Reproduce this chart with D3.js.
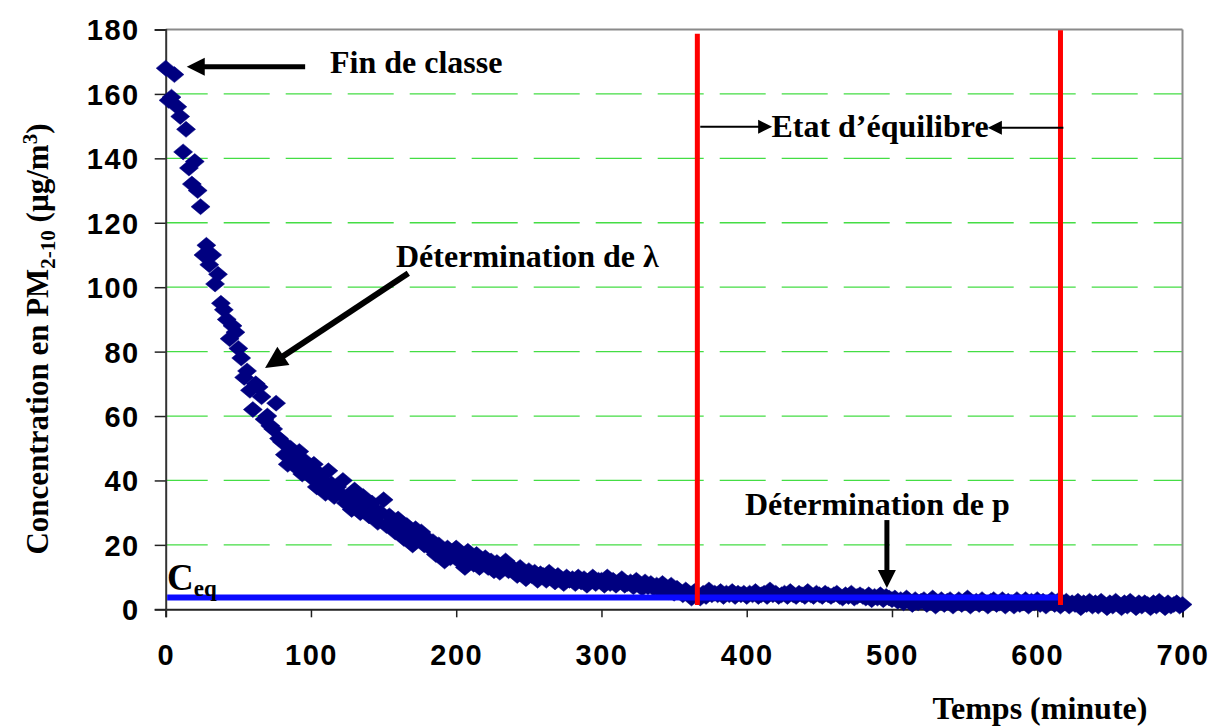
<!DOCTYPE html>
<html>
<head>
<meta charset="utf-8">
<script src="https://cdn.jsdelivr.net/npm/d3@7"></script>
<style>
  html, body { margin: 0; padding: 0; background: #fff; }
  svg { display: block; }
  .tick-label { font-family: "Liberation Sans", Arial, sans-serif; font-weight: bold; font-size: 29px; letter-spacing: 1.5px; fill: #000; }
  .serif { font-family: "Liberation Serif", "Times New Roman", serif; font-weight: bold; fill: #000; }
</style>
</head>
<body>
<svg id="chart" width="1224" height="728"></svg>
<script>
// ---------------- DATA ----------------
// Sampling: one measurement every 2 minutes, 0 .. 700 min
const samplingStep = 2;
const concentrations = [
  168, 158, 159, 166, 156, 153, 142, 149, 137, 132,      // 0-18
  139, 130, 125, 110, 113, 107, 110, 101, 104, 95,       // 20-38
  93, 90, 84, 88, 86, 81, 78, 72, 74, 68,                // 40-58
  62, 70, 69, 66, 59, 60, 57, 56, 64, 53,                // 60-78
  52, 48, 45, 50, 47, 44, 49, 42, 46, 44,                // 80-98
  41, 45, 38, 42, 40, 36, 43, 39, 35, 38,                // 100-118
  36, 40, 33, 35, 31, 37, 34, 30, 35, 32,                // 120-138
  29, 33, 31, 27, 30, 34, 26, 29, 27, 24,                // 140-158
  28, 25, 22, 26, 23, 20, 25, 22, 24, 20,                // 160-178
  22, 19, 21, 17, 20, 18, 15, 19, 16, 18,                // 180-198
  19, 15, 17, 13, 18, 16, 14, 17, 13, 15,                // 200-218
  16, 13, 15, 12, 14.5, 11.5, 13.5, 15, 12, 13,          // 220-238
  12.5, 10.5, 13, 11, 9.5, 12, 10.5, 11.5, 9, 11,        // 240-258
  10.5, 9, 11.5, 10, 8.5, 10.5, 9.5, 8, 10, 9,           // 260-278
  9.5, 8, 10, 8.5, 9.5, 7.5, 9, 10, 8, 9,                // 280-298
  9, 7.5, 10, 8, 9, 7.5, 8.5, 9.5, 7.5, 8,               // 300-318
  8.5, 7, 9, 7.5, 6.5, 8.5, 7, 8, 6.5, 7.5,              // 320-338
  6, 8, 7, 5.5, 7.5, 5, 6.5, 5.5, 4.5, 6,                // 340-358
  5, 3.5, 5.5, 4, 3.5, 5, 4, 6, 4.5, 5,                  // 360-378
  4.5, 5.5, 4, 5, 4.5, 5.5, 4, 5, 4.5, 5,                // 380-398
  4, 5, 4.5, 5.5, 4, 4.5, 5, 4, 6, 4.5,                  // 400-418
  5, 4, 4.5, 5, 4, 5.5, 4.5, 4, 5, 4.5,                  // 420-438
  4, 5.5, 4.5, 4, 5, 4.5, 4, 5, 4.5, 4,                  // 440-458
  4.5, 5, 4, 3.5, 4.5, 4, 5, 3.5, 4, 4.5,                // 460-478
  4, 3.5, 4.5, 3, 4, 3.5, 4.5, 3, 4, 3.5,                // 480-498
  3, 3.5, 2.5, 3, 2, 3.5, 2.5, 1.5, 3, 2,                // 500-518
  2.5, 3, 1.5, 2.5, 3.5, 1, 2, 3, 1.5, 2.5,              // 520-538
  3, 1, 2, 3, 1.5, 2.5, 3.5, 1, 2, 2.5,                  // 540-558
  1.5, 3, 2, 1, 2.5, 3, 1.5, 2, 3, 1,                    // 560-578
  2.5, 2, 1, 3, 1.5, 2, 3, 1, 2.5, 2,                    // 580-598
  3, 1.5, 2.5, 1, 2, 3, 1.5, 2.5, 1, 2,                  // 600-618
  2.5, 1, 2, 1.5, 2.5, 0.5, 2, 1.5, 2.5, 1,              // 620-638
  2, 1, 2.5, 1.5, 0.5, 2, 1, 2.5, 1.5, 0.5,              // 640-658
  2, 1, 2.5, 1.5, 0.5, 2, 1, 2, 1.5, 0.5,                // 660-678
  2, 1, 2.5, 1.5, 0.5, 2, 1, 1.5, 2, 1,                  // 680-698
  1.5                                                    // 700
];
const times = concentrations.map((_, i) => i * samplingStep);

const xTicks = [0, 100, 200, 300, 400, 500, 600, 700];
const yTicks = [0, 20, 40, 60, 80, 100, 120, 140, 160, 180];
const gridValues = [20, 40, 60, 80, 100, 120, 140, 160];

const cEq = 3.7;                 // equilibrium concentration (blue line)
const cEqEnd = 616;              // blue line ends here (min)
const equilibriumBounds = [366, 616];   // red vertical lines (min)
const redLineTop = [178.7, 179.8];
const redLineBottom = 1.3;

// ---------------- LAYOUT ----------------
const svg = d3.select("#chart");
const x = d3.scaleLinear().domain([0, 700]).range([165.7, 1182.5]);
const y = d3.scaleLinear().domain([0, 180]).range([609.3, 29.5]);

svg.append("rect").attr("width", 1224).attr("height", 728).attr("fill", "#fff");

// gridlines
svg.append("g").selectAll("line").data(gridValues).join("line")
  .attr("x1", x(0)).attr("x2", x(700))
  .attr("y1", d => y(d)).attr("y2", d => y(d))
  .attr("stroke", "#44dd44").attr("stroke-width", 1.3)
  .attr("stroke-dasharray", "46,16").attr("stroke-dashoffset", 4);

// border top & right (grey)
svg.append("line").attr("x1", x(0)).attr("x2", x(700)).attr("y1", y(180)).attr("y2", y(180))
  .attr("stroke", "#8a8a8a").attr("stroke-width", 2);
svg.append("line").attr("x1", x(700)).attr("x2", x(700)).attr("y1", y(180)).attr("y2", y(0))
  .attr("stroke", "#8a8a8a").attr("stroke-width", 2);

// axes
const xAxis = d3.axisBottom(x).tickValues(xTicks).tickSize(8).tickFormat(d3.format("d"));
const gx = svg.append("g").attr("transform", `translate(0,${y(0)})`).call(xAxis);
gx.select(".domain").attr("stroke", "#222").attr("stroke-width", 2);
gx.selectAll(".tick line").attr("stroke", "#222").attr("stroke-width", 1.5);
gx.selectAll(".tick text").attr("class", "tick-label").attr("dy", null).attr("y", 56);

const yAxis = d3.axisLeft(y).tickValues(yTicks).tickSize(11).tickFormat(d3.format("d"));
const gy = svg.append("g").attr("transform", `translate(${x(0)},0)`).call(yAxis);
gy.select(".domain").attr("stroke", "#333").attr("stroke-width", 2);
gy.selectAll(".tick line").attr("stroke", "#222").attr("stroke-width", 1.5);
gy.selectAll(".tick text").attr("class", "tick-label").attr("x", -26).attr("dy", "0.36em");

// data points (diamonds)
const diamond = "M0,-8L9.5,0L0,8L-9.5,0Z";
svg.append("g").selectAll("path").data(concentrations).join("path")
  .attr("d", diamond)
  .attr("transform", (d, i) => `translate(${x(times[i])},${y(d)})`)
  .attr("fill", "#000080").attr("stroke", "#000080").attr("stroke-width", 0.5);

// Ceq line
svg.append("line").attr("x1", x(1)).attr("x2", x(cEqEnd))
  .attr("y1", y(cEq)).attr("y2", y(cEq))
  .attr("stroke", "#0a0aff").attr("stroke-width", 6);

// red lines
svg.append("g").selectAll("line").data(equilibriumBounds).join("line")
  .attr("x1", d => x(d)).attr("x2", d => x(d))
  .attr("y1", (d, i) => y(redLineTop[i])).attr("y2", y(redLineBottom))
  .attr("stroke", "#ff0000").attr("stroke-width", 5);

// ---------------- ANNOTATIONS ----------------
function arrow(x1, y1, x2, y2, width, headLen, headW) {
  const dx = x2 - x1, dy = y2 - y1, L = Math.hypot(dx, dy);
  const ux = dx / L, uy = dy / L, px = -uy, py = ux;
  const bx = x2 - ux * headLen, by = y2 - uy * headLen;
  svg.append("line").attr("x1", x1).attr("y1", y1).attr("x2", bx + ux * 1).attr("y2", by + uy * 1)
    .attr("stroke", "#000").attr("stroke-width", width);
  svg.append("path")
    .attr("d", `M${x2},${y2}L${bx + px * headW},${by + py * headW}L${bx - px * headW},${by - py * headW}Z`)
    .attr("fill", "#000");
}

// Fin de classe
arrow(x(96), y(168.4), x(14.5), y(168.4), 5, 18, 9);
svg.append("text").attr("class", "serif").attr("x", 330).attr("y", 73)
  .attr("font-size", 32).text("Fin de classe");

// Détermination de λ
arrow(x(167), y(104.3), x(68.4), y(74.9), 6, 22, 11);
svg.append("text").attr("class", "serif").attr("x", 396).attr("y", 267)
  .attr("font-size", 32).text("Détermination de λ");

// Etat d'équilibre
arrow(x(368), y(149.8), x(417.5), y(149.8), 2, 14, 7);
arrow(x(618), y(149.5), x(566), y(149.5), 2, 14, 7);
svg.append("text").attr("class", "serif").attr("x", 880).attr("y", 137)
  .attr("text-anchor", "middle").attr("font-size", 32).text("Etat d’équilibre");

// Détermination de p
arrow(x(496.5), y(27.7), x(496.5), y(6.6), 5, 18, 9);
svg.append("text").attr("class", "serif").attr("x", 745).attr("y", 515)
  .attr("font-size", 32).text("Détermination de p");

// C_eq
const ceq = svg.append("text").attr("class", "serif").attr("x", 167).attr("y", 590).attr("font-size", 37);
ceq.append("tspan").text("C");
ceq.append("tspan").attr("font-size", 23).attr("dy", 6).text("eq");

// axis titles
svg.append("text").attr("class", "serif").attr("x", 1040).attr("y", 719)
  .attr("text-anchor", "middle").attr("font-size", 32).text("Temps (minute)");

const yt = svg.append("text").attr("class", "serif")
  .attr("transform", "translate(48,339) rotate(-90)")
  .attr("text-anchor", "middle").attr("font-size", 31);
yt.append("tspan").text("Concentration en PM");
yt.append("tspan").attr("font-size", 21).attr("dy", 7).text("2-10");
yt.append("tspan").attr("dy", -7).text(" (µg/m");
yt.append("tspan").attr("font-size", 21).attr("dy", -11).text("3");
yt.append("tspan").attr("dy", 11).text(")");
</script>
</body>
</html>
